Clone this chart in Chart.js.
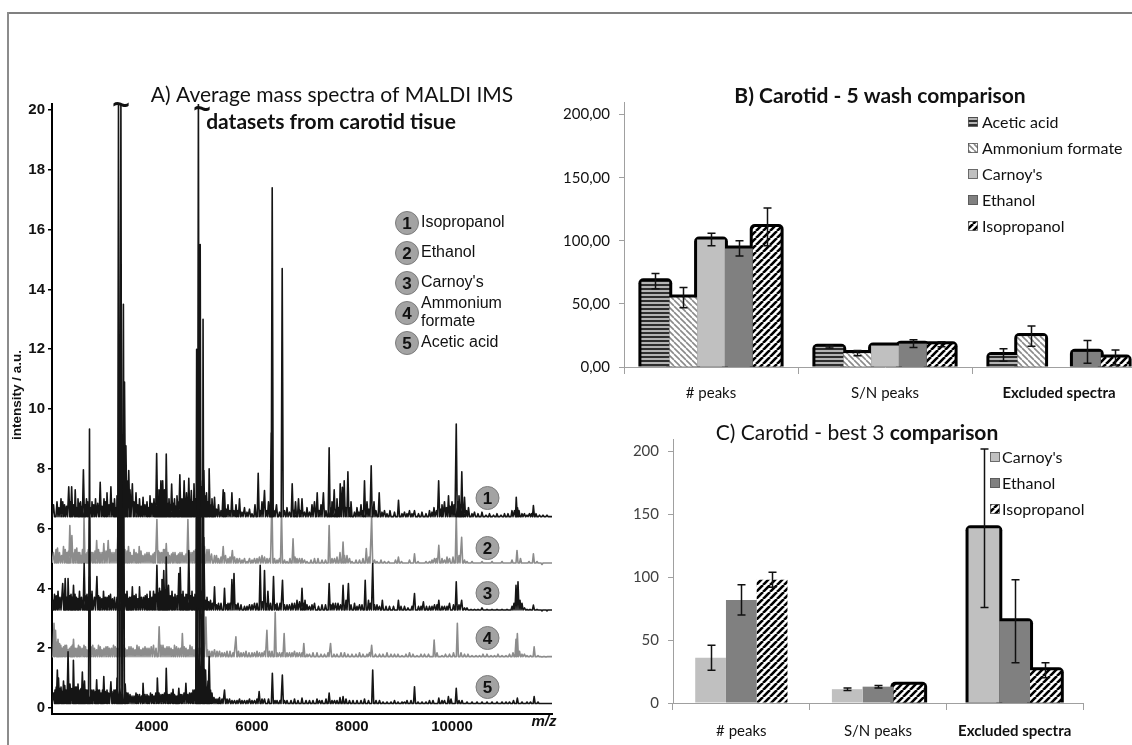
<!DOCTYPE html>
<html>
<head>
<meta charset="utf-8">
<script src="https://cdn.jsdelivr.net/npm/chart.js@4.4.1/dist/chart.umd.min.js"></script>
<style>
  html, body { margin: 0; padding: 0; background: #fff; overflow: hidden; width: 1132px; height: 745px; }
  .frame-top { position: absolute; left: 7px; top: 12px; width: 1130px; border-top: 2px solid #808080; }
  .frame-left { position: absolute; left: 7px; top: 12px; height: 740px; border-left: 2px solid #8c8c8c; }
  canvas { position: absolute; }
  #chartA { left: 0; top: 0; }
  #chartB { left: 560px; top: 0; }
  #chartC { left: 560px; top: 410px; }
</style>
</head>
<body>
<div class="frame-top"></div>
<div class="frame-left"></div>
<canvas id="chartA" width="570" height="745"></canvas>
<canvas id="chartB" width="600" height="410"></canvas>
<canvas id="chartC" width="572" height="335"></canvas>
<script>
// ---- A) spectra: peaks as [m/z, intensity] ----
const aTitle = ["A) Average mass spectra of MALDI IMS", "datasets from carotid tisue"];
const aLegend = ["Isopropanol", "Ethanol", "Carnoy's", "Ammonium|formate", "Acetic acid"];
const aYTicks = [0, 2, 4, 6, 8, 10, 12, 14, 16, 18, 20];
const aXTicks = [4000, 6000, 8000, 10000];
const baseLevels = [6.4, 4.85, 3.28, 1.72, 0.15];

const isoPeaks = [[2100,6.9],[2180,7.0],[2250,6.8],[2335,7.4],[2393,7.4],[2464,7.3],[2520,7.0],[2570,6.9],[2628,7.97],[2690,7.0],[2800,6.9],[2870,7.0],[2964,7.55],[3040,7.0],[3100,7.2],[3178,7.4],[3250,7.0],[3300,7.1],[3450,10.9],[3478,8.77],[3535,7.94],[3607,7.5],[3680,7.2],[3750,7.0],[3821,7.05],[3900,6.9],[3960,7.1],[4040,7.0],[4093,8.51],[4140,7.3],[4178,7.6],[4214,7.6],[4250,7.3],[4285,8.49],[4340,7.0],[4393,7.49],[4450,7.0],[4500,7.1],[4557,7.8],[4600,7.0],[4643,7.6],[4690,7.2],[4736,7.68],[4786,7.27],[4840,7.5],[5036,7.94],[5090,7.2],[5143,8.0],[5200,7.0],[5250,7.05],[5330,6.8],[5424,7.3],[5450,7.2],[5520,6.8],[5598,7.2],[5680,6.8],[5750,7.0],[5850,6.7],[5950,6.65],[6060,6.8],[6124,7.85],[6200,6.9],[6250,7.27],[6330,6.9],[6384,9.2],[6404,17.4],[6490,6.8],[6604,14.7],[6700,6.7],[6804,7.5],[6870,6.9],[6930,7.0],[7000,7.0],[7100,6.7],[7200,6.8],[7250,6.9],[7304,7.2],[7380,6.8],[7428,7.2],[7543,8.7],[7600,6.9],[7644,7.3],[7700,7.0],[7764,7.5],[7807,7.38],[7844,7.6],[7918,7.9],[7980,6.9],[8100,6.7],[8180,6.8],[8250,7.6],[8300,6.9],[8384,8.1],[8440,6.9],[8544,7.2],[8650,6.6],[8760,6.6],[8930,6.95],[9050,6.55],[9150,6.6],[9250,6.6],[9400,6.55],[9550,6.6],[9640,6.7],[9733,7.6],[9800,6.8],[9850,6.9],[9930,7.1],[10000,6.9],[10085,9.5],[10140,7.1],[10196,7.9],[10250,7.05],[10330,6.7],[10450,6.55],[10600,6.55],[10750,6.5],[10900,6.5],[11050,6.5],[11200,6.6],[11285,7.05],[11340,6.6],[11450,6.5],[11550,6.5],[11628,6.77],[11750,6.45],[11900,6.45]];
const isoNoise = [[2030,6.8],[2140,6.7],[2215,6.9],[2290,6.75],[2365,6.9],[2430,6.8],[2495,6.7],[2545,6.85],[2600,6.75],[2660,6.8],[2720,6.9],[2770,6.7],[2835,6.8],[2915,6.85],[3000,6.75],[3070,6.9],[3140,6.8],[3215,6.85],[3275,6.7],[3500,7.6],[3560,7.3],[3640,6.9],[3715,6.8],[3785,6.75],[3860,6.8],[3930,6.7],[4000,6.85],[4070,6.8],[4115,6.9],[4160,7.0],[4195,6.9],[4230,7.0],[4310,6.85],[4365,6.8],[4420,6.85],[4475,6.75],[4530,6.9],[4580,6.8],[4620,6.9],[4665,6.8],[4715,6.9],[4760,6.8],[4810,6.9],[4870,7.0],[4990,7.4],[5010,7.6],[5060,7.1],[5115,6.9],[5170,6.8],[5225,6.7],[5290,6.65],[5380,6.6],[5480,6.65],[5560,6.6],[5640,6.6],[5710,6.6],[5800,6.55],[5900,6.55],[6000,6.5],[6160,6.6],[6290,6.6],[6440,6.6],[6550,6.55],[6650,6.6],[6750,6.55],[6840,6.6],[6960,6.6],[7050,6.55],[7150,6.55],[7340,6.6],[7480,6.6],[7570,6.7],[7670,6.65],[7730,6.7],[7880,6.7],[7950,6.7],[8050,6.55],[8140,6.55],[8220,6.6],[8340,6.65],[8480,6.6],[8600,6.55],[8700,6.5],[8850,6.55],[9000,6.5],[9100,6.5],[9200,6.5],[9330,6.5],[9480,6.5],[9600,6.55],[9690,6.6],[9770,6.65],[9890,6.7],[9960,6.75],[10040,6.8],[10110,6.9],[10170,6.8],[10220,6.7],[10290,6.6],[10400,6.5],[10520,6.5],[10680,6.45],[10830,6.45],[10980,6.45],[11120,6.5],[11250,6.6],[11310,6.7],[11400,6.5],[11500,6.45],[11590,6.5],[11680,6.5],[11820,6.45],[11960,6.4]];

const ethPeaks = [[2080,5.3],[2150,5.2],[2230,5.4],[2300,5.2],[2357,6.1],[2398,5.77],[2460,5.3],[2530,5.2],[2580,5.1],[2640,6.4],[2700,5.2],[2750,6.27],[2820,5.2],[2893,5.6],[2960,5.2],[3036,5.5],[3124,5.6],[3200,5.2],[3280,5.3],[3321,6.05],[3390,6.6],[3460,5.3],[3530,5.4],[3600,5.1],[3680,5.2],[3744,5.4],[3820,5.1],[3900,5.2],[3980,5.1],[4050,5.2],[4098,6.3],[4160,5.2],[4230,5.3],[4285,5.5],[4350,5.1],[4420,5.2],[4500,5.1],[4560,5.2],[4640,5.1],[4718,6.3],[4800,5.2],[4870,5.3],[4964,8.8],[5050,5.4],[5140,5.3],[5250,5.1],[5330,5.0],[5424,5.4],[5520,5.0],[5607,5.27],[5700,5.0],[5800,4.95],[5900,4.9],[6000,4.95],[6100,5.0],[6200,5.1],[6300,5.0],[6398,7.0],[6500,4.95],[6590,6.6],[6700,4.9],[6821,5.66],[6900,5.0],[7000,5.0],[7100,4.9],[7250,5.0],[7400,4.95],[7543,6.1],[7650,5.0],[7760,5.2],[7821,5.55],[7900,5.1],[8000,4.9],[8150,4.95],[8286,5.33],[8393,6.4],[8500,4.9],[8650,4.9],[8800,4.85],[8928,5.05],[9050,4.85],[9250,5.16],[9400,4.85],[9550,4.9],[9650,5.0],[9736,5.44],[9850,4.95],[9950,5.0],[10085,6.5],[10193,5.71],[10300,4.9],[10500,4.85],[10700,4.85],[10900,4.85],[11100,4.85],[11300,5.27],[11450,4.85],[11628,5.16],[11800,4.8]];
const ethNoise = [[2030,5.2],[2110,5.35],[2190,5.1],[2265,5.3],[2330,5.25],[2420,5.2],[2495,5.35],[2555,5.2],[2610,5.3],[2670,5.15],[2725,5.3],[2790,5.2],[2860,5.25],[2930,5.3],[3000,5.2],[3080,5.25],[3160,5.3],[3240,5.2],[3350,5.5],[3430,5.4],[3500,5.25],[3565,5.2],[3640,5.3],[3710,5.15],[3780,5.25],[3860,5.15],[3940,5.2],[4020,5.15],[4130,5.25],[4195,5.2],[4260,5.3],[4320,5.2],[4390,5.15],[4460,5.2],[4530,5.15],[4600,5.2],[4680,5.15],[4760,5.2],[4835,5.25],[4920,5.4],[5010,5.5],[5100,5.3],[5190,5.15],[5290,5.1],[5380,5.05],[5470,5.1],[5560,5.05],[5650,5.05],[5750,5.0],[5850,5.0],[5950,5.0],[6050,5.0],[6150,5.05],[6250,5.05],[6350,5.0],[6450,5.0],[6550,5.0],[6650,4.95],[6760,5.0],[6860,5.05],[6950,5.0],[7050,4.95],[7180,4.95],[7320,5.0],[7470,4.95],[7600,5.0],[7700,5.05],[7850,5.1],[7950,5.0],[8080,4.95],[8220,5.0],[8340,5.05],[8450,4.95],[8580,4.95],[8730,4.9],[8870,4.95],[8990,4.9],[9150,4.95],[9320,4.9],[9480,4.9],[9600,4.95],[9690,5.0],[9800,5.0],[9900,5.05],[10020,5.05],[10140,5.1],[10250,4.95],[10400,4.9],[10600,4.9],[10800,4.9],[11000,4.9],[11200,4.95],[11370,5.0],[11540,4.9],[11700,4.9],[11900,4.85]];

const carPeaks = [[2050,3.8],[2120,3.9],[2214,4.16],[2264,4.33],[2321,4.33],[2380,3.8],[2430,4.1],[2490,3.7],[2550,3.9],[2643,4.83],[2700,3.8],[2750,4.38],[2800,3.9],[2898,4.4],[2960,3.7],[3030,3.9],[3100,3.7],[3170,3.8],[3250,3.7],[3364,6.04],[3428,4.83],[3500,3.9],[3550,3.7],[3607,4.05],[3680,3.8],[3750,4.05],[3830,3.7],[3900,3.8],[3960,3.9],[4030,3.9],[4098,4.77],[4150,4.0],[4200,4.3],[4235,4.6],[4284,5.05],[4330,4.1],[4400,3.9],[4460,3.8],[4536,4.5],[4564,4.7],[4620,3.9],[4680,3.8],[4736,5.27],[4800,3.9],[4860,3.8],[4928,6.0],[5036,5.7],[5100,3.7],[5170,3.6],[5250,4.05],[5330,3.5],[5450,4.0],[5520,3.5],[5598,4.3],[5640,4.5],[5720,3.5],[5850,3.4],[5950,3.45],[6050,3.5],[6164,4.77],[6250,4.6],[6318,3.9],[6430,4.4],[6500,3.5],[6610,4.27],[6700,3.45],[6800,3.5],[6900,3.6],[7000,4.0],[7060,3.6],[7150,3.4],[7250,3.5],[7400,3.45],[7543,4.16],[7620,3.5],[7720,3.5],[7821,4.1],[7880,3.6],[7928,4.16],[8050,3.5],[8150,3.45],[8264,4.27],[8330,3.6],[8414,4.83],[8500,3.45],[8607,3.6],[8750,3.4],[8928,3.6],[9050,3.4],[9250,3.83],[9330,3.4],[9428,3.55],[9550,3.4],[9650,3.45],[9736,3.6],[9850,3.4],[9950,3.5],[10085,4.22],[10193,3.6],[10300,3.35],[10450,3.3],[10600,3.35],[10800,3.3],[11000,3.3],[11200,3.4],[11280,4.1],[11320,4.22],[11400,3.5],[11500,3.3],[11628,3.44],[11800,3.25]];
const carNoise = [[2020,3.6],[2085,3.75],[2160,3.7],[2240,3.8],[2295,3.7],[2350,3.75],[2405,3.7],[2460,3.8],[2520,3.65],[2590,3.7],[2670,3.75],[2725,3.7],[2775,3.8],[2850,3.7],[2930,3.75],[2995,3.65],[3065,3.7],[3135,3.75],[3210,3.65],[3300,3.7],[3395,3.9],[3470,3.8],[3525,3.65],[3580,3.7],[3645,3.75],[3715,3.65],[3790,3.7],[3865,3.75],[3930,3.65],[4000,3.7],[4060,3.8],[4125,3.85],[4175,3.9],[4255,3.95],[4305,3.85],[4365,3.75],[4430,3.7],[4500,3.75],[4590,3.8],[4650,3.7],[4710,3.8],[4770,3.75],[4830,3.7],[4895,3.8],[4990,3.9],[5070,3.6],[5135,3.55],[5210,3.5],[5290,3.45],[5380,3.5],[5490,3.45],[5560,3.5],[5680,3.45],[5780,3.45],[5900,3.4],[6000,3.45],[6100,3.5],[6210,3.55],[6280,3.5],[6370,3.5],[6470,3.45],[6560,3.5],[6650,3.45],[6750,3.45],[6850,3.5],[6950,3.55],[7030,3.5],[7100,3.45],[7200,3.45],[7330,3.4],[7470,3.45],[7580,3.45],[7670,3.5],[7770,3.45],[7980,3.45],[8100,3.4],[8200,3.45],[8370,3.5],[8450,3.45],[8550,3.4],[8680,3.4],[8830,3.4],[8980,3.4],[9120,3.35],[9200,3.4],[9380,3.4],[9490,3.4],[9600,3.4],[9700,3.45],[9800,3.4],[9900,3.4],[10030,3.45],[10140,3.45],[10250,3.35],[10380,3.3],[10520,3.3],[10700,3.3],[10900,3.3],[11100,3.3],[11240,3.5],[11360,3.6],[11450,3.35],[11560,3.3],[11700,3.3],[11900,3.25]];

const ammPeaks = [[2040,2.83],[2070,2.6],[2100,2.2],[2150,2.16],[2200,2.0],[2260,2.1],[2320,1.95],[2380,2.05],[2430,2.3],[2500,2.0],[2560,2.05],[2640,2.1],[2700,1.95],[2780,2.05],[2850,2.0],[2930,2.1],[3000,1.95],[3080,2.05],[3150,2.0],[3230,2.1],[3300,2.0],[3393,3.27],[3460,2.0],[3540,2.05],[3620,2.0],[3700,2.1],[3780,1.95],[3860,2.05],[3940,2.0],[4030,2.1],[4143,2.72],[4220,2.1],[4300,2.05],[4380,2.0],[4450,2.1],[4530,2.0],[4607,2.49],[4680,2.0],[4760,2.1],[4840,1.95],[4920,2.0],[5078,3.04],[5150,1.9],[5250,1.95],[5350,1.9],[5450,1.85],[5560,1.9],[5678,2.38],[5780,1.85],[5880,1.9],[6000,1.85],[6100,1.9],[6200,1.85],[6298,2.6],[6350,1.9],[6464,3.2],[6550,1.85],[6643,2.49],[6750,1.85],[6850,1.9],[6950,1.85],[7036,2.16],[7150,1.8],[7300,1.85],[7450,1.8],[7571,2.16],[7700,1.8],[7850,1.85],[8000,1.8],[8150,1.85],[8300,1.8],[8393,2.1],[8550,1.8],[8700,1.85],[8850,1.8],[9000,1.75],[9150,1.85],[9300,1.75],[9450,1.8],[9643,2.27],[9800,1.75],[9950,1.8],[10107,2.83],[10250,1.8],[10400,1.75],[10550,1.75],[10700,1.8],[10850,1.75],[11000,1.75],[11150,1.8],[11280,2.3],[11307,2.49],[11400,1.8],[11500,1.75],[11643,2.05],[11800,1.7]];
const ammNoise = [[2120,2.3],[2175,2.1],[2230,2.05],[2290,2.1],[2350,2.0],[2405,2.1],[2465,2.0],[2530,2.1],[2600,2.0],[2670,2.05],[2740,2.0],[2815,2.1],[2890,1.95],[2965,2.05],[3040,2.0],[3115,2.05],[3190,2.0],[3265,2.05],[3340,2.0],[3430,2.1],[3500,1.95],[3580,2.05],[3660,1.95],[3740,2.05],[3820,2.0],[3900,2.0],[3985,2.05],[4080,2.0],[4180,2.1],[4260,2.0],[4340,2.05],[4415,1.95],[4490,2.05],[4570,2.0],[4645,2.05],[4720,1.95],[4800,2.05],[4880,2.0],[4970,2.0],[5030,2.05],[5110,1.95],[5200,1.9],[5300,1.9],[5400,1.85],[5500,1.9],[5620,1.85],[5730,1.9],[5830,1.85],[5940,1.85],[6050,1.85],[6150,1.85],[6250,1.9],[6400,1.9],[6500,1.85],[6600,1.85],[6700,1.85],[6800,1.85],[6900,1.85],[7000,1.85],[7100,1.8],[7220,1.85],[7380,1.8],[7520,1.85],[7640,1.8],[7780,1.85],[7920,1.8],[8080,1.8],[8220,1.8],[8350,1.85],[8470,1.8],[8620,1.8],[8780,1.8],[8920,1.8],[9080,1.8],[9220,1.8],[9380,1.8],[9530,1.8],[9700,1.85],[9870,1.8],[10030,1.85],[10180,1.85],[10320,1.8],[10480,1.75],[10620,1.8],[10780,1.75],[10920,1.8],[11080,1.75],[11220,1.85],[11350,1.9],[11450,1.8],[11570,1.75],[11720,1.75],[11880,1.7]];

const acePeaks = [[2060,0.6],[2107,1.27],[2130,1.0],[2180,0.7],[2230,0.9],[2280,0.6],[2321,1.88],[2360,0.8],[2428,1.6],[2470,0.7],[2520,0.8],[2560,0.6],[2607,1.2],[2650,0.9],[2700,0.6],[2750,9.33],[2800,0.6],[2893,0.94],[2950,0.6],[3036,1.05],[3100,0.6],[3178,0.88],[3240,0.6],[3300,1.0],[3330,20.5],[3378,20.5],[3428,13.5],[3464,0.8],[3520,0.5],[3600,0.4],[3680,0.5],[3750,0.45],[3821,0.83],[3900,0.45],[3970,0.5],[4040,0.4],[4107,1.0],[4180,0.45],[4250,0.5],[4285,1.33],[4350,0.45],[4420,0.63],[4480,0.4],[4536,0.66],[4600,0.45],[4678,0.83],[4750,0.5],[4820,0.6],[4893,12],[4928,20.5],[4964,15.5],[5021,13],[5071,1.27],[5100,0.7],[5143,1.72],[5200,0.5],[5280,0.3],[5350,0.35],[5450,0.6],[5550,0.3],[5650,0.25],[5750,0.3],[5850,0.25],[5950,0.3],[6050,0.25],[6143,0.55],[6250,0.3],[6407,1.16],[6500,0.25],[6607,1.1],[6700,0.25],[6850,0.3],[7000,0.33],[7150,0.25],[7300,0.3],[7400,0.25],[7543,0.5],[7650,0.25],[7760,0.35],[7821,0.38],[7950,0.25],[8100,0.25],[8250,0.3],[8414,1.27],[8550,0.25],[8700,0.2],[8850,0.25],[9000,0.2],[9100,0.25],[9250,0.71],[9400,0.2],[9550,0.25],[9736,0.33],[9850,0.25],[9928,0.38],[10085,0.66],[10200,0.25],[10400,0.2],[10600,0.2],[10800,0.2],[11000,0.2],[11150,0.2],[11307,0.33],[11500,0.2],[11643,0.38],[11800,0.15]];
const aceNoise = [[2030,0.5],[2085,0.7],[2155,0.65],[2205,0.55],[2255,0.75],[2300,0.6],[2340,0.7],[2395,0.65],[2450,0.6],[2495,0.7],[2540,0.55],[2580,0.65],[2630,0.7],[2675,0.6],[2725,0.55],[2775,0.5],[2835,0.6],[2870,0.55],[2920,0.6],[2980,0.5],[3010,0.6],[3065,0.55],[3130,0.5],[3200,0.55],[3270,0.6],[3355,0.8],[3400,0.8],[3490,0.5],[3560,0.45],[3640,0.4],[3710,0.45],[3790,0.4],[3860,0.45],[3930,0.4],[4005,0.45],[4075,0.5],[4140,0.5],[4215,0.45],[4320,0.45],[4385,0.5],[4450,0.45],[4510,0.4],[4570,0.45],[4640,0.5],[4715,0.45],[4785,0.5],[4855,0.6],[4910,1.5],[4945,1.8],[4990,1.6],[5045,1.3],[5120,0.9],[5170,0.6],[5240,0.35],[5320,0.3],[5400,0.3],[5500,0.3],[5600,0.25],[5700,0.25],[5800,0.25],[5900,0.25],[6000,0.25],[6100,0.3],[6200,0.3],[6330,0.3],[6460,0.25],[6560,0.25],[6650,0.25],[6780,0.25],[6920,0.25],[7080,0.25],[7220,0.25],[7350,0.25],[7480,0.3],[7600,0.25],[7700,0.25],[7880,0.3],[8020,0.25],[8180,0.25],[8330,0.25],[8480,0.25],[8620,0.2],[8780,0.2],[8920,0.2],[9050,0.2],[9180,0.25],[9320,0.2],[9480,0.2],[9620,0.25],[9800,0.25],[9980,0.3],[10140,0.25],[10300,0.2],[10500,0.2],[10700,0.2],[10900,0.2],[11080,0.2],[11230,0.25],[11400,0.2],[11570,0.2],[11720,0.2],[11900,0.15]];

// ---- B) five washes ----
const bCategories = ["# peaks", "S/N peaks", "Excluded spectra"];
const bWashes = ["Acetic acid", "Ammonium formate", "Carnoy's", "Ethanol", "Isopropanol"];
const bAcetic = [68, 16, 9.5];
const bAmmonium = [55, 11, 24.5];
const bCarnoys = [101, 17, 0];
const bEthanol = [94, 18.5, 12];
const bIsopropanol = [111, 18, 7.5];
const bAceticErr = [6, 1, 5];
const bAmmoniumErr = [8, 2, 8];
const bCarnoysErr = [5, 0, 0];
const bEthanolErr = [6, 3, 9];
const bIsopropanolErr = [15, 2, 6];
const bYTicks = [0, 50, 100, 150, 200];

// ---- C) best three ----
const cCategories = ["# peaks", "S/N peaks", "Excluded spectra"];
const cWashes = ["Carnoy's", "Ethanol", "Isopropanol"];
const cCarnoys = [36, 11, 139];
const cEthanol = [82, 13, 65];
const cIsopropanol = [98, 14.5, 26];
const cCarnoysErr = [10, 1, 63];
const cEthanolErr = [12, 1, 33];
const cIsopropanolErr = [6, 0, 6];
const cYTicks = [0, 50, 100, 150, 200];

const BLACK = "#151515";
const GRAY = "#8c8c8c";

function spectrum(peaks, base) {
  const pts = [{ x: 2000, y: base }];
  peaks.slice().sort((a, b) => a[0] - b[0]).forEach(([mz, h]) => {
    pts.push({ x: mz - 20, y: base }, { x: mz, y: h }, { x: mz + 20, y: base });
  });
  pts.push({ x: 12000, y: base });
  return pts;
}

function pattern(kind) {
  const c = document.createElement("canvas");
  const g = c.getContext("2d");
  if (kind === "hstripe") {
    c.width = 4; c.height = 4;
    g.fillStyle = "#b4b4b4"; g.fillRect(0, 0, 4, 4);
    g.fillStyle = "#2e2e2e"; g.fillRect(0, 0, 4, 2);
  } else {
    const s = kind === "fwd" ? 7 : 6;
    c.width = s; c.height = s;
    g.fillStyle = "#fff"; g.fillRect(0, 0, s, s);
    g.strokeStyle = kind === "fwd" ? "#000" : "#8a8a8a";
    g.lineWidth = kind === "fwd" ? 2.6 : 1.6;
    g.beginPath();
    for (const k of [-s, 0, s]) {
      if (kind === "fwd") { g.moveTo(k, s); g.lineTo(k + s, 0); }
      else { g.moveTo(k, 0); g.lineTo(k + s, s); }
    }
    g.stroke();
  }
  return g.createPattern(c, "repeat");
}

const fills = {
  acetic: pattern("hstripe"),
  ammonium: pattern("back"),
  carnoys: "#c0c0c0",
  ethanol: "#808080",
  isopropanol: pattern("fwd")
};

// black outline behind bars (Excel shadow look)
const barShadow = {
  id: "barShadow",
  beforeDatasetsDraw(chart) {
    const ctx = chart.ctx;
    ctx.save();
    ctx.fillStyle = "#000";
    chart.data.datasets.forEach((ds, i) => {
      (ds.shadowAt || []).forEach(j => {
        const bar = chart.getDatasetMeta(i).data[j];
        if (!bar || bar.base - bar.y < 1) return;
        const x0 = bar.x - bar.width / 2 - 3;
        ctx.beginPath();
        ctx.roundRect(x0, bar.y - 3, bar.width + 6, bar.base - bar.y + 3, [5, 5, 0, 0]);
        ctx.fill();
      });
    });
    ctx.restore();
  }
};

const errorBars = {
  id: "errorBars",
  afterDatasetsDraw(chart) {
    const ctx = chart.ctx, y = chart.scales.y;
    ctx.save();
    ctx.strokeStyle = "#111";
    ctx.lineWidth = 1.5;
    chart.data.datasets.forEach((ds, i) => {
      chart.getDatasetMeta(i).data.forEach((bar, j) => {
        const e = ds.errors[j];
        if (!e) return;
        const v = ds.data[j];
        const x = Math.round(bar.x) + 0.5;
        const t = y.getPixelForValue(v + e), b = y.getPixelForValue(Math.max(v - e, 0));
        ctx.beginPath();
        ctx.moveTo(x, t); ctx.lineTo(x, b);
        ctx.moveTo(x - 4, t); ctx.lineTo(x + 4, t);
        ctx.moveTo(x - 4, b); ctx.lineTo(x + 4, b);
        ctx.stroke();
      });
    });
    ctx.restore();
  }
};

function drawLegend(chart, bx, tx, y0) {
  const ctx = chart.ctx;
  ctx.save();
  ctx.font = "16px Lato";
  ctx.textBaseline = "middle";
  ctx.textAlign = "left";
  chart.data.datasets.forEach((ds, i) => {
    const y = y0 + i * 26;
    ctx.fillStyle = ds.backgroundColor;
    ctx.fillRect(bx, y - 5, 10, 10);
    ctx.strokeStyle = "#555"; ctx.lineWidth = 0.8;
    ctx.strokeRect(bx + 0.5, y - 4.5, 9, 9);
    ctx.fillStyle = "#111";
    ctx.fillText(ds.label, tx, y + 1);
  });
  ctx.restore();
}

// ---------- Chart A ----------
const annotA = {
  id: "annotA",
  afterDraw(chart) {
    const ctx = chart.ctx;
    ctx.save();
    ctx.fillStyle = "#111";
    ctx.textAlign = "center";
    ctx.textBaseline = "middle";
    ctx.font = "21px Lato";
    ctx.fillText(aTitle[0], 332, 95);
    ctx.font = "bold 21px Lato";
    ctx.fillText(aTitle[1], 331, 122);
    ctx.font = "bold 30px 'Liberation Sans'";
    ctx.fillText("~", 121, 107);
    ctx.fillText("~", 202, 111);
    ctx.font = "italic bold 15px 'Liberation Sans'";
    ctx.fillText("m/z", 544, 722);
    ctx.save();
    ctx.translate(17, 395);
    ctx.rotate(-Math.PI / 2);
    ctx.font = "bold 13.5px 'Liberation Sans'";
    ctx.fillText("intensity / a.u.", 0, 0);
    ctx.restore();
    const circle = (x, y, n) => {
      ctx.beginPath();
      ctx.arc(x, y, 11.5, 0, Math.PI * 2);
      ctx.fillStyle = "#a3a3a3"; ctx.fill();
      ctx.strokeStyle = "#7c7c7c"; ctx.lineWidth = 1; ctx.stroke();
      ctx.fillStyle = "#111";
      ctx.font = "bold 17px 'Liberation Sans'";
      ctx.textAlign = "center";
      ctx.fillText(String(n), x, y + 1);
    };
    const legY = [223, 253, 283, 313, 343];
    aLegend.forEach((lab, i) => {
      circle(407, legY[i], i + 1);
      ctx.font = "16px 'Liberation Sans'";
      ctx.textAlign = "left";
      const lines = lab.split("|");
      lines.forEach((ln, k) => {
        ctx.fillText(ln, 421, legY[i] + (lines.length > 1 ? (k - 0.5) * 18 : 0));
      });
    });
    [498, 548, 593, 638, 687].forEach((y, i) => circle(487.5, y, i + 1));
    ctx.restore();
  }
};

const lineDs = (label, peaks, noise, base, color) => ({
  label, data: spectrum(peaks.concat(noise), base), borderColor: color, borderWidth: 1.6,
  pointRadius: 0, tension: 0, borderJoinStyle: "round", fill: false
});

new Chart(document.getElementById("chartA"), {
  type: "line",
  data: {
    datasets: [
      lineDs(aLegend[0], isoPeaks, isoNoise, baseLevels[0], BLACK),
      lineDs(aLegend[2], carPeaks, carNoise, baseLevels[2], BLACK),
      lineDs(aLegend[4], acePeaks, aceNoise, baseLevels[4], BLACK),
      lineDs(aLegend[1], ethPeaks, ethNoise, baseLevels[1], GRAY),
      lineDs("Ammonium formate", ammPeaks, ammNoise, baseLevels[3], GRAY)
    ]
  },
  options: {
    responsive: false, animation: false, events: [],
    layout: { padding: { left: 0, top: 104, right: 18, bottom: 3 } },
    plugins: { legend: { display: false }, tooltip: { enabled: false } },
    scales: {
      x: {
        type: "linear", min: 2000, max: 12000,
        afterBuildTicks: s => { s.ticks = aXTicks.map(v => ({ value: v })); },
        afterFit: s => { s.height = 28; },
        ticks: { callback: v => String(v), font: { family: "Liberation Sans", size: 15, weight: "bold" }, color: "#111", padding: 4, maxRotation: 0, autoSkip: false },
        grid: { drawOnChartArea: false, drawTicks: false, color: "transparent" },
        border: { display: true, color: "#000", width: 2 }
      },
      y: {
        min: -0.2, max: 20.2,
        afterBuildTicks: s => { s.ticks = aYTicks.map(v => ({ value: v })); },
        afterFit: s => { s.width = 52; },
        ticks: { font: { family: "Liberation Sans", size: 15, weight: "bold" }, color: "#111", padding: 3 },
        grid: { drawOnChartArea: false, color: "#000", tickLength: 4, lineWidth: 1.5 },
        border: { display: true, color: "#000", width: 2 }
      }
    }
  },
  plugins: [annotA]
});

// ---------- Chart B ----------
const annotB = {
  id: "annotB",
  afterDraw(chart) {
    const ctx = chart.ctx;
    ctx.save();
    ctx.fillStyle = "#111";
    ctx.font = "bold 21px Lato";
    ctx.textAlign = "center";
    ctx.textBaseline = "middle";
    ctx.fillText("B) Carotid - 5 wash comparison", 320, 96);
    ctx.restore();
    drawLegend(chart, 408, 422, 122);
  }
};

const barDs = (label, data, errors, fill, shadowAt) => ({
  label, data, errors, shadowAt, backgroundColor: fill, borderWidth: 0,
  categoryPercentage: 0.8, barPercentage: 1.0
});

const catTicks = (pad) => ({
  font: c => ({ family: "Lato", size: 15, weight: c.index === 2 ? "bold" : "normal" }),
  color: "#111", padding: pad, maxRotation: 0, autoSkip: false
});

new Chart(document.getElementById("chartB"), {
  type: "bar",
  data: {
    labels: bCategories,
    datasets: [
      barDs(bWashes[0], bAcetic, bAceticErr, fills.acetic, [0, 1, 2]),
      barDs(bWashes[1], bAmmonium, bAmmoniumErr, fills.ammonium, [0, 1, 2]),
      barDs(bWashes[2], bCarnoys, bCarnoysErr, fills.carnoys, [0, 1, 2]),
      barDs(bWashes[3], bEthanol, bEthanolErr, fills.ethanol, [0, 1, 2]),
      barDs(bWashes[4], bIsopropanol, bIsopropanolErr, fills.isopropanol, [0, 1, 2])
    ]
  },
  options: {
    responsive: false, animation: false, events: [],
    layout: { padding: { left: 0, top: 102, right: 14, bottom: 3 } },
    plugins: { legend: { display: false }, tooltip: { enabled: false } },
    scales: {
      x: {
        afterFit: s => { s.height = 40; },
        ticks: catTicks(10),
        grid: { offset: true, drawOnChartArea: false, tickLength: 7, color: "#a0a0a0" },
        border: { color: "#a0a0a0", width: 1 }
      },
      y: {
        min: 0, max: 210,
        afterBuildTicks: s => { s.ticks = bYTicks.map(v => ({ value: v })); },
        afterFit: s => { s.width = 64; },
        ticks: { callback: v => v.toFixed(2).replace(".", ","), font: { family: "Lato", size: 15 }, color: "#111", padding: 9 },
        grid: { drawOnChartArea: false, tickLength: 5, color: "#a0a0a0" },
        border: { color: "#a0a0a0", width: 1 }
      }
    }
  },
  plugins: [barShadow, errorBars, annotB]
});

// ---------- Chart C ----------
const annotC = {
  id: "annotC",
  afterDraw(chart) {
    const ctx = chart.ctx;
    ctx.save();
    ctx.fillStyle = "#111";
    ctx.textBaseline = "middle";
    ctx.textAlign = "left";
    const p1 = "C) Carotid - best 3 ", p2 = "comparison";
    ctx.font = "21px Lato";
    const w1 = ctx.measureText(p1).width;
    ctx.font = "bold 21px Lato";
    const w2 = ctx.measureText(p2).width;
    const x0 = 297 - (w1 + w2) / 2;
    ctx.font = "21px Lato";
    ctx.fillText(p1, x0, 23);
    ctx.font = "bold 21px Lato";
    ctx.fillText(p2, x0 + w1, 23);
    ctx.restore();
    drawLegend(chart, 430, 442, 47);
  }
};

const barDsC = (label, data, errors, fill, shadowAt) => ({
  label, data, errors, shadowAt, backgroundColor: fill, borderWidth: 0,
  categoryPercentage: 0.675, barPercentage: 1.0
});

new Chart(document.getElementById("chartC"), {
  type: "bar",
  data: {
    labels: cCategories,
    datasets: [
      barDsC(cWashes[0], cCarnoys, cCarnoysErr, fills.carnoys, [2]),
      barDsC(cWashes[1], cEthanol, cEthanolErr, fills.ethanol, [2]),
      barDsC(cWashes[2], cIsopropanol, cIsopropanolErr, fills.isopropanol, [1, 2])
    ]
  },
  options: {
    responsive: false, animation: false, events: [],
    layout: { padding: { left: 0, top: 29, right: 49, bottom: 2 } },
    plugins: { legend: { display: false }, tooltip: { enabled: false } },
    scales: {
      x: {
        afterFit: s => { s.height = 40; },
        ticks: catTicks(12),
        grid: { offset: true, drawOnChartArea: false, tickLength: 7, color: "#a0a0a0" },
        border: { color: "#a0a0a0", width: 1 }
      },
      y: {
        min: 0, max: 210,
        afterBuildTicks: s => { s.ticks = cYTicks.map(v => ({ value: v })); },
        afterFit: s => { s.width = 113; },
        ticks: { font: { family: "Lato", size: 15 }, color: "#404040", padding: 9 },
        grid: { drawOnChartArea: false, tickLength: 5, color: "#a0a0a0" },
        border: { color: "#a0a0a0", width: 1 }
      }
    }
  },
  plugins: [barShadow, errorBars, annotC]
});
</script>
</body>
</html>
